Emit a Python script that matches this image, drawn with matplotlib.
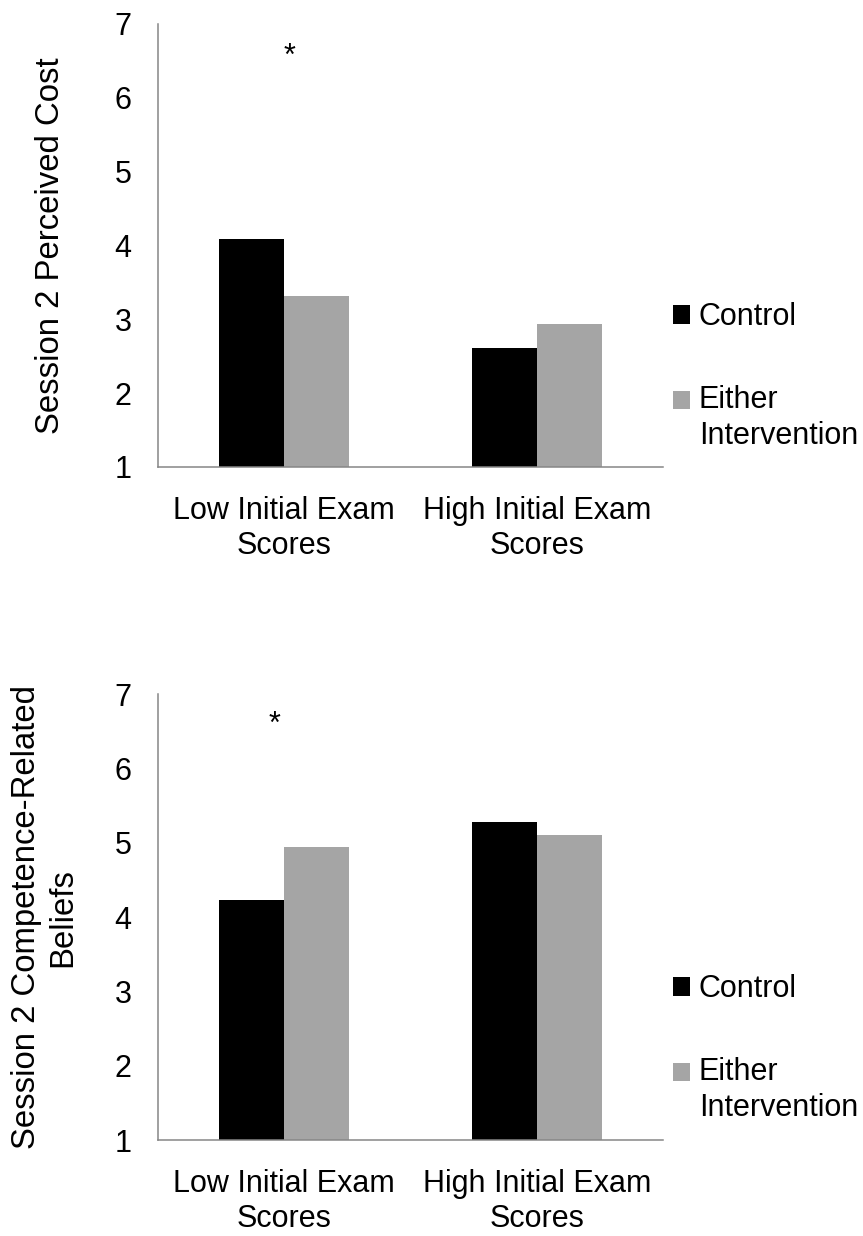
import matplotlib
matplotlib.use('Agg')
import matplotlib.pyplot as plt
import numpy as np

plt.rcParams['font.family'] = ['Liberation Sans', 'DejaVu Sans']

groups = ['Low Initial Exam\nScores', 'High Initial Exam\nScores']
series = ['Control', 'Either\nIntervention']
colors = ['#000000', '#a5a5a5']

# Session 2 perceived cost
cost_control = [4.09, 2.61]
cost_either = [3.32, 2.94]

# Session 2 competence-related beliefs
comp_control = [4.23, 5.28]
comp_either = [4.95, 5.11]

panels = [
    ('Session 2 Perceived Cost', cost_control, cost_either, (0.02, 6.545), -0.212),
    ('Session 2 Competence-Related\nBeliefs', comp_control, comp_either, (-0.04, 6.58), -0.224),
]

W, H = 863, 1236
fig = plt.figure(figsize=(W / 100, H / 100), dpi=100)

axes_px = [(158, 23.6, 663, 467), (158, 694.2, 663, 1140)]
legend_top = [302, 974]
FS = 22
axis_grey = '#868686'

x = np.arange(len(groups))
bw = 0.258

for (ylabel, ctrl, eith, star, ylx), (x0, y0, x1, y1), ltop in zip(panels, axes_px, legend_top):
    ax = fig.add_axes([x0 / W, 1 - y1 / H, (x1 - x0) / W, (y1 - y0) / H])
    b1 = ax.bar(x - bw / 2, ctrl, bw, color=colors[0], label=series[0])
    b2 = ax.bar(x + bw / 2, eith, bw, color=colors[1], label=series[1])
    ax.set_ylim(1, 7)
    ax.set_xlim(-0.5, 1.5)
    ax.set_yticks(range(1, 8))
    ax.set_xticks(x)
    ax.set_xticklabels(groups, fontsize=FS, linespacing=1.2)
    ax.tick_params(axis='y', length=0, pad=19, labelsize=FS)
    ax.tick_params(axis='x', length=0, pad=21)
    for s in ['top', 'right']:
        ax.spines[s].set_visible(False)
    for s in ['left', 'bottom']:
        ax.spines[s].set_color(axis_grey)
        ax.spines[s].set_linewidth(1.1)
    ax.text(ylx, 0.5, ylabel, transform=ax.transAxes, rotation=90,
            ha='center', va='center', fontsize=23.7, linespacing=1.2)
    ax.text(star[0], star[1], '*', ha='center', va='center', fontsize=FS)

    leg = fig.legend([b1, b2], series, loc='upper left',
                     bbox_to_anchor=(673 / W, 1 - ltop / H),
                     frameon=False, fontsize=FS, handlelength=0.57, handleheight=0.57,
                     handletextpad=0.27, labelspacing=1.75, borderpad=0, borderaxespad=0)
    leg.get_texts()[1].set_linespacing(1.24)
    # keep the grey square level with the first line "Either"
    sq = leg.legend_handles[1]
    sq.set_y(sq.get_y() + 13.7)

fig.savefig('out.png', dpi=100)
